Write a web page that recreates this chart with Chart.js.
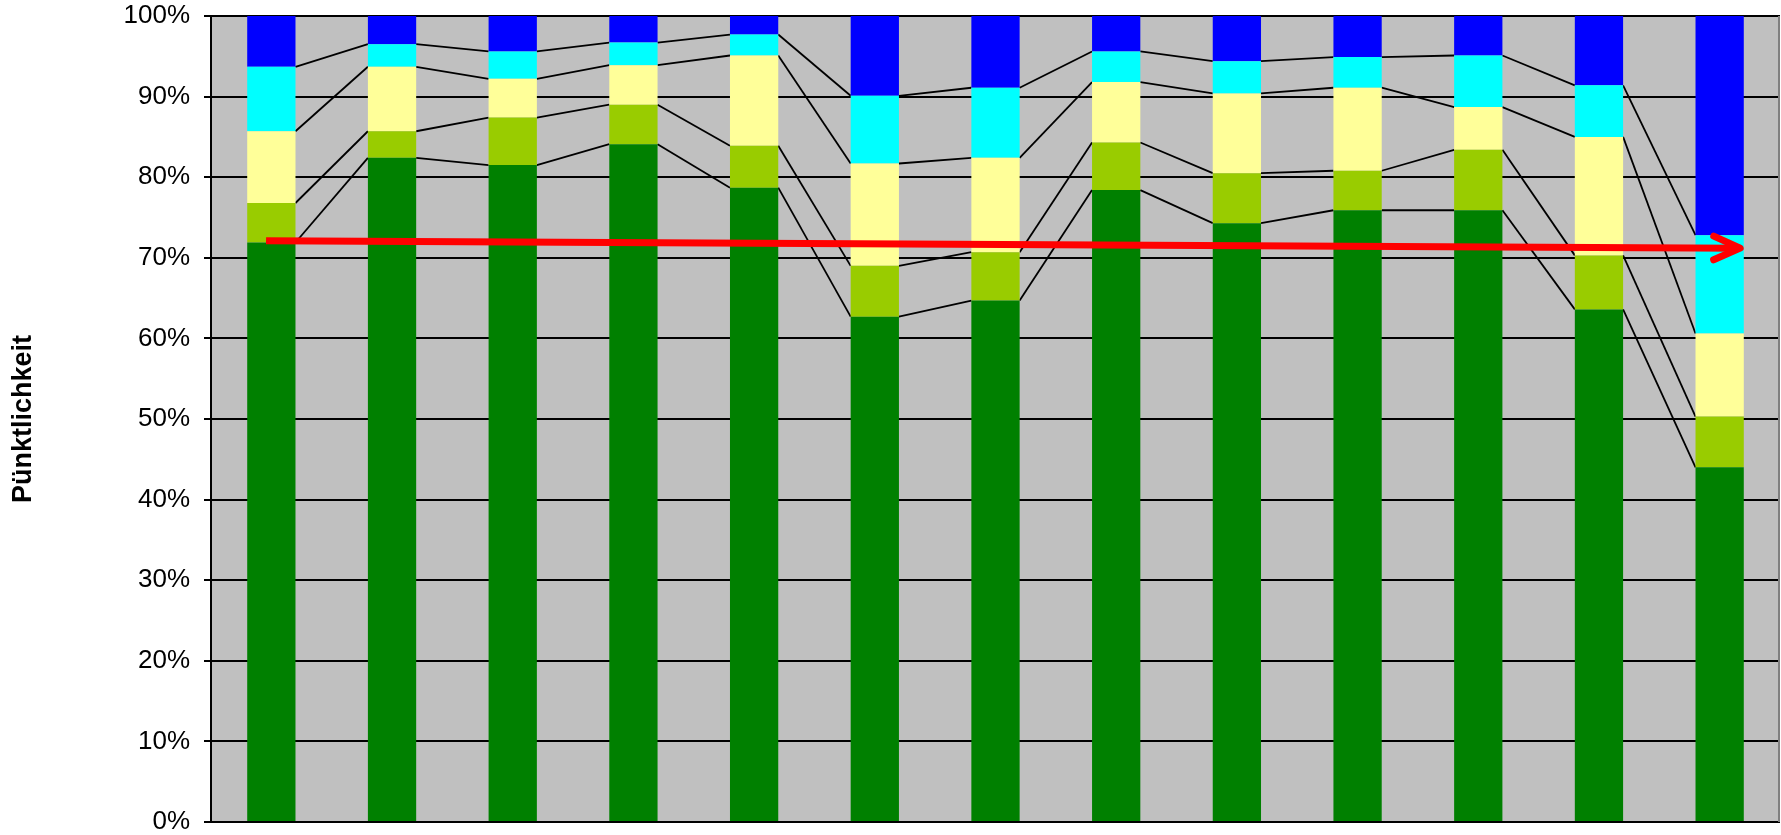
<!DOCTYPE html>
<html>
<head>
<meta charset="utf-8">
<script src="https://cdn.jsdelivr.net/npm/chart.js@4/dist/chart.umd.min.js"></script>
<style>
  body { margin: 0; background: #fff; }
  #wrap { width: 1781px; height: 835px; }
</style>
</head>
<body>
<div id="wrap"><canvas id="chart"></canvas></div>
<script>
// categories (no labels shown in the picture)
const labels = ["1", "2", "3", "4", "5", "6", "7", "8", "9", "10", "11", "12", "13"];

// shares per bar, in %
const green      = [71.9, 82.4, 81.5, 84.1, 78.7, 62.7, 64.7, 78.4, 74.3, 75.9, 75.9, 63.6, 44.0];
const lightGreen = [4.9, 3.3, 5.9, 4.9, 5.2, 6.3, 6.0, 5.9, 6.2, 4.9, 7.5, 6.7, 6.3];
const yellow     = [8.9, 8.0, 4.8, 4.9, 11.2, 12.7, 11.7, 7.5, 9.9, 10.3, 5.3, 14.7, 10.3];
const cyan       = [8.0, 2.8, 3.4, 2.8, 2.6, 8.4, 8.7, 3.8, 4.0, 3.8, 6.4, 6.4, 12.2];
const blue       = [6.3, 3.5, 4.4, 3.3, 2.3, 9.9, 8.9, 4.4, 5.6, 5.1, 4.9, 8.6, 27.2];

// red trend arrow (x in category index units)
const arrowX = [-0.044, 12.17];
const arrowY = [72.1, 71.2];

const yTicks = [0, 10, 20, 30, 40, 50, 60, 70, 80, 90, 100];

const plotBg = {
  id: "plotBg",
  beforeDraw(chart) {
    const { ctx, chartArea: a } = chart;
    ctx.save();
    ctx.fillStyle = "#C0C0C0";
    ctx.fillRect(a.left, a.top, a.right - a.left, a.bottom - a.top);
    ctx.restore();
  },
  beforeDatasetsDraw(chart) {
    const { ctx, chartArea: a } = chart;
    ctx.save();
    // right border of plot area
    ctx.strokeStyle = "#808080";
    ctx.lineWidth = 2;
    ctx.beginPath();
    ctx.moveTo(a.right - 1, a.top);
    ctx.lineTo(a.right - 1, a.bottom);
    ctx.stroke();
    // series lines between segment tops
    ctx.strokeStyle = "#000";
    ctx.lineWidth = 1.8;
    for (let d = 0; d < 4; d++) {
      const pts = chart.getDatasetMeta(d).data;
      for (let i = 0; i < pts.length - 1; i++) {
        const a1 = pts[i], b1 = pts[i + 1];
        ctx.beginPath();
        ctx.moveTo(a1.x + a1.width / 2, a1.y);
        ctx.lineTo(b1.x - b1.width / 2, b1.y);
        ctx.stroke();
      }
    }
    ctx.restore();
  },
  afterDatasetsDraw(chart) {
    const p = chart.getDatasetMeta(5).data;
    if (p.length < 2) return;
    const s = p[p.length - 2], e = p[p.length - 1];
    const ang = Math.atan2(e.y - s.y, e.x - s.x);
    const len = 29, spread = 0.42;
    const ctx = chart.ctx;
    ctx.save();
    ctx.strokeStyle = "#FF0000";
    ctx.lineWidth = 7;
    ctx.lineCap = "round";
    ctx.lineJoin = "round";
    ctx.beginPath();
    ctx.moveTo(e.x - len * Math.cos(ang - spread), e.y - len * Math.sin(ang - spread));
    ctx.lineTo(e.x, e.y);
    ctx.lineTo(e.x - len * Math.cos(ang + spread), e.y - len * Math.sin(ang + spread));
    ctx.stroke();
    ctx.restore();
  }
};

const bar = (data, color) => ({
  type: "bar",
  data: data,
  backgroundColor: color,
  borderWidth: 0,
  grouped: false,
  categoryPercentage: 1,
  barPercentage: 0.4,
  order: 1
});

new Chart(document.getElementById("chart"), {
  data: {
    labels: labels,
    datasets: [
      bar(green, "#008000"),
      bar(lightGreen, "#99CC00"),
      bar(yellow, "#FFFF99"),
      bar(cyan, "#00FFFF"),
      bar(blue, "#0000FF"),
      {
        type: "line",
        data: arrowX.map((x, i) => ({ x: x, y: arrowY[i] })),
        xAxisID: "xa",
        borderColor: "#FF0000",
        borderWidth: 7,
        borderCapStyle: "butt",
        pointRadius: 0,
        fill: false,
        order: 0
      }
    ]
  },
  options: {
    responsive: true,
    maintainAspectRatio: false,
    devicePixelRatio: 1,
    animation: false,
    layout: { padding: { left: 0, top: 16, right: 1, bottom: 13 } },
    plugins: { legend: { display: false }, tooltip: { enabled: false } },
    scales: {
      x: { stacked: true, display: false },
      xa: { type: "linear", min: -0.5, max: 12.5, display: false },
      y: {
        stacked: true,
        min: 0,
        max: 100,
        afterFit(scale) {
          scale.width = 211;
          scale.paddingTop = 0;
          scale.paddingBottom = 0;
        },
        afterBuildTicks(scale) { scale.ticks = yTicks.map(v => ({ value: v })); },
        ticks: {
          callback: v => v + "%",
          color: "#000",
          padding: 14,
          font: { family: "Liberation Sans", size: 26, lineHeight: 1 }
        },
        grid: { color: "#000", lineWidth: 2, tickLength: 7 },
        border: { display: true, color: "#000", width: 2 },
        title: {
          display: true,
          text: "Pünktlichkeit",
          color: "#000",
          padding: { top: 7, bottom: 0 },
          font: { family: "Liberation Sans", size: 27, weight: "bold", lineHeight: 1.2 }
        }
      }
    }
  },
  plugins: [plotBg]
});
</script>
</body>
</html>
